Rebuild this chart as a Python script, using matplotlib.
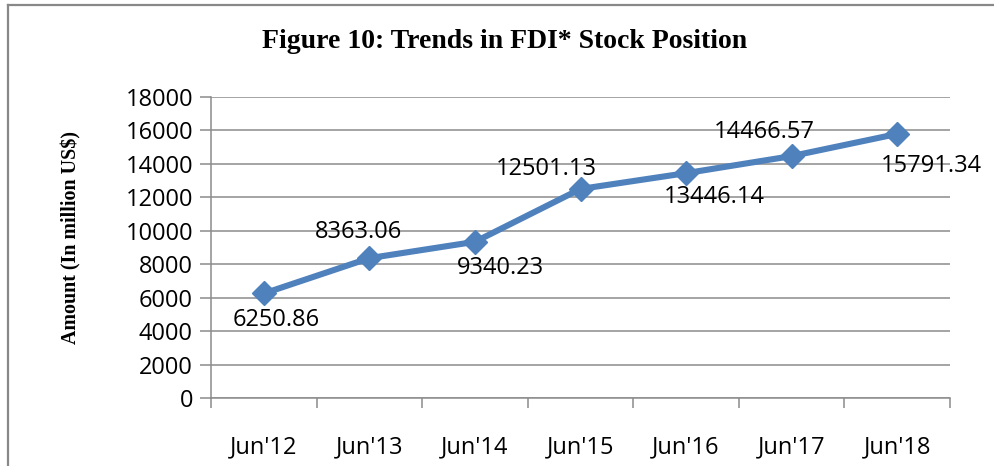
import matplotlib.pyplot as plt
from matplotlib.lines import Line2D

# data
periods = ["Jun'12", "Jun'13", "Jun'14", "Jun'15", "Jun'16", "Jun'17", "Jun'18"]
stock = [6250.86, 8363.06, 9340.23, 12501.13, 13446.14, 14466.57, 15791.34]
# label offsets in pixels (dx, dy) relative to each marker
label_offsets = [(12, -27), (-11, 26), (26, -26), (-34, 20), (28, -24), (-27, 24), (34, -32)]

blue = '#4F81BD'
grid_grey = '#8C8C8C'
tick_font = 'Open Sans'

fig = plt.figure(figsize=(9.94, 4.66), dpi=100)
ax = fig.add_axes([211 / 994, 1 - 398 / 466, (950 - 211) / 994, (398 - 97) / 466])

x = list(range(len(periods)))
ax.plot(x, stock, color=blue, linewidth=4.4, marker='D', markersize=12,
        markeredgecolor=blue, markerfacecolor=blue, zorder=3, clip_on=False)

for xi, v, (dx, dy) in zip(x, stock, label_offsets):
    ax.annotate('%.2f' % v, (xi, v), xytext=(dx * 0.72, dy * 0.72), textcoords='offset points',
                ha='center', va='center', fontsize=17, family=tick_font, color='black',
                annotation_clip=False)

ax.set_xlim(-0.5, len(periods) - 0.5)
ax.set_ylim(0, 18000)
ax.set_yticks(range(0, 18001, 2000))
ax.yaxis.grid(True, color=grid_grey, linewidth=1.1)
ax.set_axisbelow(True)

ax.set_xticks([i - 0.5 for i in range(len(periods) + 1)], minor=False)
ax.set_xticklabels([])
ax.set_xticks(x, minor=True)
ax.set_xticklabels(periods, minor=True)
ax.tick_params(axis='x', which='major', length=7, width=1.1, color=grid_grey)
ax.tick_params(axis='x', which='minor', length=0, pad=27, labelsize=17)
ax.tick_params(axis='y', length=8, width=1.1, color=grid_grey, pad=5, labelsize=17)
for lbl in ax.get_xticklabels(minor=True) + ax.get_yticklabels():
    lbl.set_family(tick_font)

for side in ['top', 'right']:
    ax.spines[side].set_visible(False)
for side in ['left', 'bottom']:
    ax.spines[side].set_color(grid_grey)
    ax.spines[side].set_linewidth(1.1)

fig.text(505 / 994, 1 - 42 / 466, 'Figure 10: Trends in FDI* Stock Position',
         ha='center', va='center', fontsize=20, fontweight='bold', family='Liberation Serif')
fig.text(71 / 994, 1 - 237 / 466, 'Amount (In million US$)', rotation=90,
         ha='center', va='center', fontsize=14.4, fontweight='bold', family='Liberation Serif')

# frame of the chart area (left and top edges visible)
fig.add_artist(Line2D([8 / 994, 8 / 994], [0, 1 - 5 / 466], transform=fig.transFigure,
                      color='#888888', linewidth=1.6))
fig.add_artist(Line2D([8 / 994, 1], [1 - 5 / 466, 1 - 5 / 466], transform=fig.transFigure,
                      color='#888888', linewidth=1.6))

fig.savefig('out.png', dpi=100)
